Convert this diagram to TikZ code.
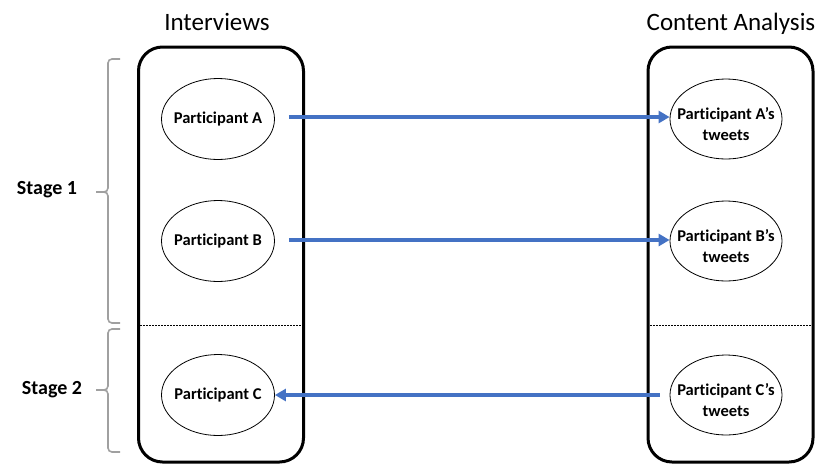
\documentclass[tikz,border=0pt]{standalone}
\usepackage{fontspec}
\setmainfont{Carlito}[Ligatures=NoCommon]
\usetikzlibrary{shapes.geometric,arrows.meta}
\definecolor{arrowblue}{RGB}{68,114,196}
\definecolor{bracegray}{RGB}{160,160,160}
\tikzset{
  column/.style={draw=black,line width=3pt,rounded corners=24pt,minimum width=165pt,minimum height=415pt,inner sep=0pt},
  partell/.style={draw=black,line width=0.8pt,ellipse,minimum width=113pt,minimum height=81pt,inner sep=0pt},
  parttext/.style={font=\bfseries\fontsize{16.5}{21.5}\selectfont,align=center},
  title/.style={font=\fontsize{25}{30}\selectfont,anchor=base},
  stagetext/.style={font=\bfseries\fontsize{20}{24}\selectfont},
  flow/.style={draw=arrowblue,line width=3.5pt,-{Triangle[length=11pt,width=12pt]}},
  stagebrace/.style={draw=bracegray,line width=1.6pt,rounded corners=4pt},
  divider/.style={draw=black,line width=0.6pt,dash pattern=on 2pt off 1pt}
}
\begin{document}
\begin{tikzpicture}[x=1pt,y=-1pt]
\useasboundingbox (0,0) rectangle (830,464);
% columns
\node[column] (L) at (221,254.5) {};
\node[column] (R) at (730.5,254.5) {};
% titles
\node[title] (tL) at (217,30) {Interviews};
\node[title] (tR) at (731,30) {Content Analysis};
% dividers
\draw[divider] (140,325) -- (302,325);
\draw[divider] (650,325) -- (811,325);
% ellipses left
\node[partell,label={[parttext]center:Participant A}] (pA) at (218,119) {};
\node[partell,label={[parttext]center:Participant B}] (pB) at (218,241) {};
\node[partell,label={[parttext]center:Participant C}] (pC) at (218,395) {};
% ellipses right
\node[partell,minimum width=112pt,minimum height=80pt,label={[parttext,yshift=-5pt]center:Participant A’s\\tweets}] (tA) at (726,119) {};
\node[partell,minimum width=112pt,minimum height=80pt,label={[parttext,yshift=-5pt]center:Participant B’s\\tweets}] (tB) at (726,241) {};
\node[partell,minimum width=112pt,minimum height=80pt,label={[parttext,yshift=-5pt]center:Participant C’s\\tweets}] (tC) at (726,395) {};
% arrows
\draw[flow] ([xshift=14pt,yshift=2pt]pA.east) -- ([yshift=2pt]tA.west);
\draw[flow] ([xshift=14pt,yshift=1pt]pB.east) -- ([yshift=1pt]tB.west);
\draw[flow] ([xshift=-10pt]tC.west) -- (pC.east);
% braces
\coordinate (b1) at (96,192);
\coordinate (b2) at (96,390);
\draw[stagebrace] (120,59) -- (108,59) -- (108,192) -- (b1);
\draw[stagebrace] (b1) -- (108,192) -- (108,323) -- (120,323);
\draw[stagebrace] (120,329) -- (108,329) -- (108,390) -- (b2);
\draw[stagebrace] (b2) -- (108,390) -- (108,452) -- (120,452);
% stage labels
\node[stagetext] (s1) at (47,190) {Stage 1};
\node[stagetext] (s2) at (52,390) {Stage 2};
\end{tikzpicture}
\end{document}
